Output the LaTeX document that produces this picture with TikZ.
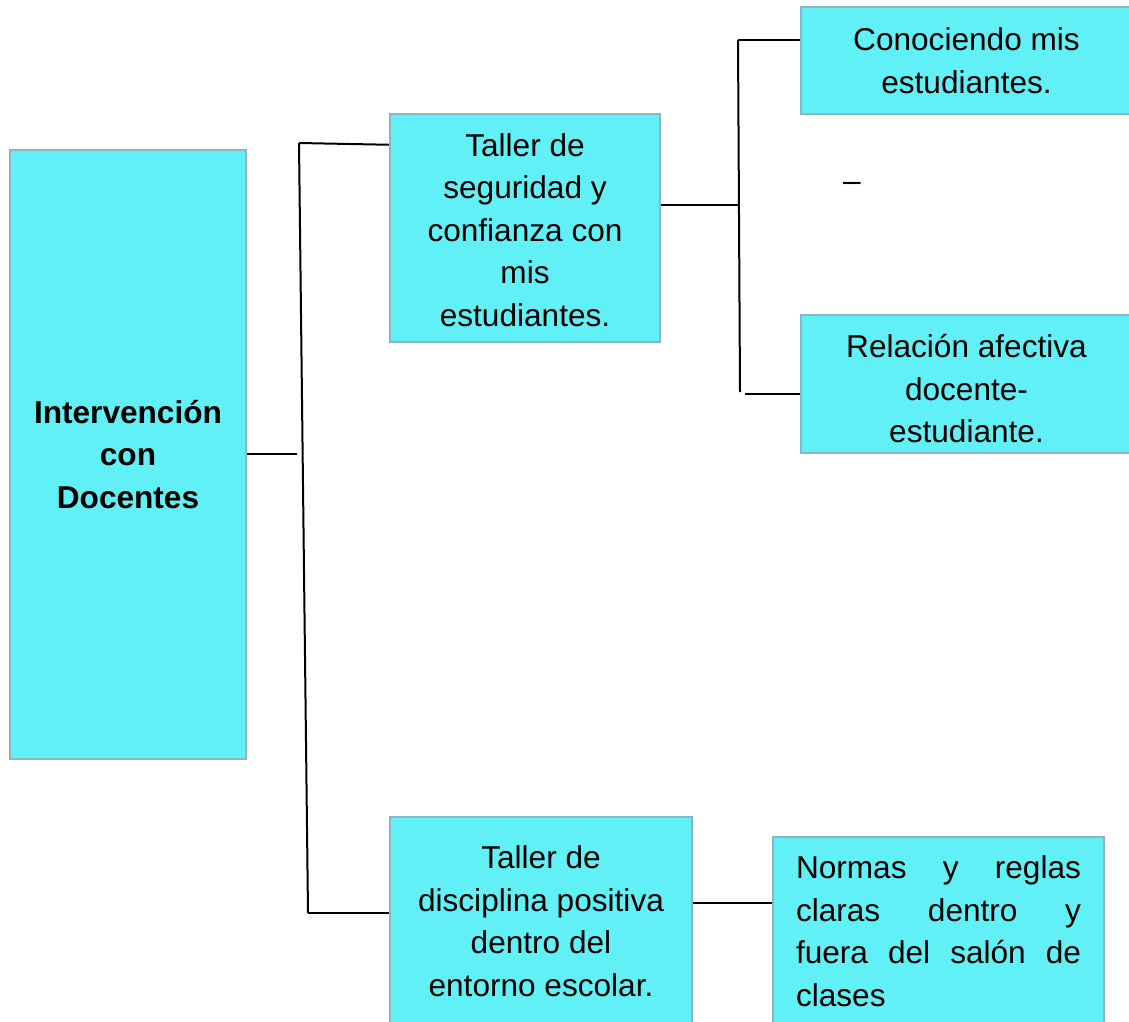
\documentclass[tikz,border=0pt]{standalone}
\usepackage{fontspec}
\setmainfont{Liberation Sans}
\usetikzlibrary{calc}
\definecolor{boxfill}{RGB}{96,240,246}
\definecolor{boxline}{RGB}{140,180,196}
\begin{document}
\begin{tikzpicture}[x=1pt,y=-1pt,
  txt/.style={inner sep=0pt,align=center,font=\fontsize{31.6pt}{42.5pt}\selectfont},
  box/.style={draw=boxline,line width=2.5pt,fill=boxfill,txt},
  conn/.style={draw=black,line width=2pt}]
\useasboundingbox (0,0) rectangle (1129,1021);
\clip (0,0) rectangle (1129,1021);
% boxes
\node[box,minimum width=236pt,minimum height=609pt] (main) at (128,454.5)
  {\bfseries Intervención\\\bfseries con\\\bfseries Docentes};
\node[box,minimum width=270pt,minimum height=228pt] (seg) at (525,228)
  {\rule{0pt}{0pt}};
\node[txt] (segtext) at (525,230) {Taller de\\seguridad y\\confianza con\\mis\\estudiantes.};
\node[box,minimum width=331pt,minimum height=107pt] (con) at (966.5,60.5)
  {Conociendo mis\\estudiantes.};
\node[box,minimum width=331pt,minimum height=138pt] (rel) at (966.5,384) {\rule{0pt}{0pt}};
\node[txt] (reltext) at (966.5,389) {Relación afectiva\\docente-\\estudiante.};
\node[box,minimum width=302pt,minimum height=208pt] (dis) at (541,921)
  {Taller de\\disciplina positiva\\dentro del\\entorno escolar.};
\node[box,minimum width=331pt,minimum height=188pt,align=left] (nor) at (938.5,931)
  {\makebox[285pt][s]{Normas y reglas}\\\makebox[285pt][s]{claras dentro y}\\\makebox[285pt][s]{fuera del salón de}\\clases};
\node[anchor=base,inner sep=0pt,font=\fontsize{31.6pt}{42.5pt}\selectfont] (dash) at (852,191) {–};
% connector coordinates
\coordinate (j1) at (297,454);
\coordinate (t1) at (299,143);
\coordinate (b1) at (308,913);
\coordinate (j2) at (738,205);
\coordinate (t2) at (738,40);
\coordinate (b2) at (740,392);
\coordinate (b2s) at (745,394);
\coordinate (c5) at (692,903);
% connectors
\draw[conn] (main.east |- j1) -- (j1);
\draw[conn] (t1) -- (b1);
\draw[conn] (t1) -- ([yshift=-32pt]seg.north west);
\draw[conn] (b1) -- (b1 -| dis.west);
\draw[conn] ([yshift=23pt]seg.east) -- (j2);
\draw[conn] (t2) -- (b2);
\draw[conn] (t2) -- (t2 -| con.west);
\draw[conn] (b2s) -- (b2s -| rel.west);
\draw[conn] (c5 -| dis.east) -- (c5 -| nor.west);
\end{tikzpicture}
\end{document}
